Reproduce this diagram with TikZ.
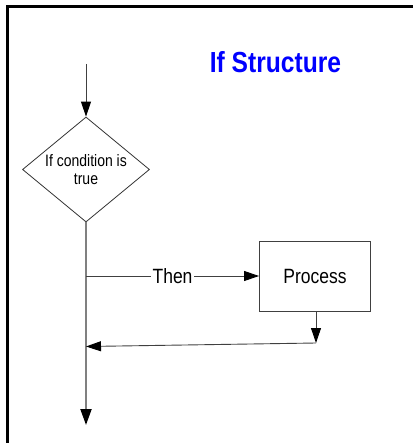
\documentclass[tikz,border=0pt]{standalone}
\usepackage{fontspec}
\setmainfont{Liberation Sans}
\usepackage{graphicx}
\usetikzlibrary{shapes.geometric,arrows.meta}
\newcommand{\vst}[1]{\scalebox{1}[1.18]{#1}}
\begin{document}
\begin{tikzpicture}[x=1pt,y=-1pt,
  arr/.style={-{Triangle[length=15pt,width=10pt,black]}},
  thin line/.style={draw=black!75,line width=0.9pt},
  decision/.style={diamond,draw=black!80,line width=0.8pt,minimum width=127pt,minimum height=105pt,aspect=1.21,inner sep=0pt,align=center,font=\fontsize{14}{19}\selectfont},
  procbox/.style={rectangle,draw=black!75,line width=0.9pt,minimum width=111pt,minimum height=70pt,inner sep=0pt,font=\fontsize{17.5}{20}\selectfont},
  lbl/.style={fill=white,inner sep=2pt,font=\fontsize{17.5}{20}\selectfont},
  titlestyle/.style={text=blue,font=\fontsize{24.6}{28}\selectfont\bfseries,inner sep=0pt}]
\useasboundingbox (0,0) rectangle (413,443);
% frame (left and top edges only)
\coordinate (fbl) at (7.5,443);
\coordinate (ftl) at (7.5,6.5);
\coordinate (ftr) at (413,6.5);
\draw[line width=2.5pt,black] (fbl) -- (ftl) -- (ftr);
% title
\node[titlestyle] (title) at (275.5,62.5) {\vst{If Structure}};
% nodes
\coordinate (start) at (86,64);
\node[decision] (cond) at (86,169.5) {\vst{If condition is}\\[-1pt]\vst{true}};
\node[procbox] (proc) at (315,276) {\vst{Process}};
\coordinate (endpt) at (86,425);
\coordinate (branch) at (86,276);
\coordinate (corner) at (316,343);
\coordinate (join) at (86,346.5);
% connectors
\draw[arr,thin line] (start) -- (cond.north);
\draw[draw=black!50,line width=2pt,-{Triangle[length=16pt,width=11pt,black]}] (cond.south) -- (endpt);
\draw[arr,thin line] (branch) -- node[lbl,pos=0.5] (then) {\vst{Then}} (proc.west);
\draw[arr,thin line] (proc.south -| corner) -- (corner);
\draw[arr,thin line] (corner) -- (join);
\end{tikzpicture}
\end{document}
